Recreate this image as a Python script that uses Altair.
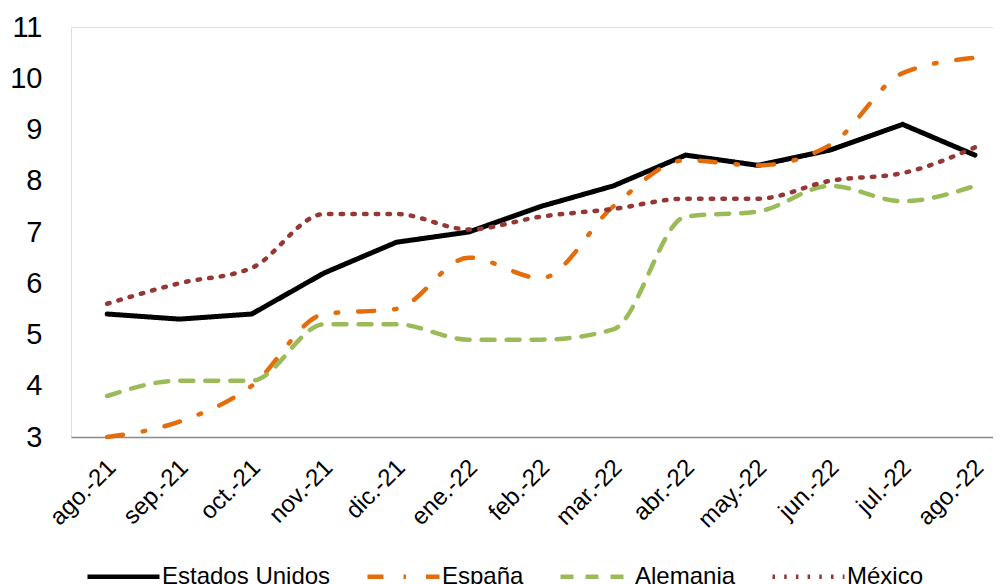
import altair as alt
import pandas as pd

months = ["ago.-21", "sep.-21", "oct.-21", "nov.-21", "dic.-21", "ene.-22", "feb.-22",
          "mar.-22", "abr.-22", "may.-22", "jun.-22", "jul.-22", "ago.-22"]
estados_unidos = [5.4, 5.3, 5.4, 6.2, 6.8, 7.0, 7.5, 7.9, 8.5, 8.3, 8.6, 9.1, 8.5]
espana = [3.0, 3.3, 4.0, 5.4, 5.5, 6.5, 6.1, 7.5, 8.4, 8.3, 8.7, 10.1, 10.4]
alemania = [3.8, 4.1, 4.1, 5.2, 5.2, 4.9, 4.9, 5.1, 7.3, 7.4, 7.9, 7.6, 7.9]
mexico = [5.6, 6.0, 6.3, 7.35, 7.35, 7.05, 7.3, 7.45, 7.65, 7.65, 8.0, 8.15, 8.65]

series_names = ["Estados Unidos", "España", "Alemania", "México"]
series_values = [estados_unidos, espana, alemania, mexico]
series_colors = ["#000000", "#E46C0A", "#9BBB59", "#953735"]
series_dashes = [[1, 0], [16, 20, 2.5, 20], [13, 12], [2.5, 9.2]]
y_ticks = [3, 4, 5, 6, 7, 8, 9, 10, 11]

rows = []
for name, vals in zip(series_names, series_values):
    for i, (m, v) in enumerate(zip(months, vals)):
        rows.append({"idx": i, "mes": m, "serie": name, "valor": v})
df = pd.DataFrame(rows)

label_expr = "[" + ",".join("'" + m + "'" for m in months) + "][datum.value]"

x_enc = alt.X(
    "idx:Q",
    scale=alt.Scale(domain=[-0.5, 12.25], nice=False, zero=False),
    axis=alt.Axis(
        title=None, values=list(range(len(months))), labelExpr=label_expr,
        labelAngle=-45, labelAlign="right", labelBaseline="top",
        labelFont="Liberation Sans", labelFontSize=24, labelColor="#000000",
        labelPadding=18, labelOffset=-4, ticks=False, tickSize=0, grid=False,
        domainColor="#898989", domainWidth=1.5, labelOverlap=False,
    ),
)
y_enc = alt.Y(
    "valor:Q",
    scale=alt.Scale(domain=[3, 11], nice=False, zero=False),
    axis=alt.Axis(
        title=None, values=y_ticks, labelFont="Liberation Sans", labelFontSize=29,
        labelColor="#000000", labelPadding=29, ticks=False, tickSize=0,
        domain=False, grid=False,
    ),
)
legend_opts = dict(
    title=None, orient="none", direction="horizontal", columns=4,
    legendX=14, legendY=511, symbolType="stroke", symbolSize=5184,
    symbolStrokeWidth=4.5, labelFont="Liberation Sans", labelFontSize=24,
    labelColor="#000000", labelOffset=0, columnPadding=27, labelLimit=400,
)
color_enc = alt.Color(
    "serie:N",
    scale=alt.Scale(domain=series_names, range=series_colors),
    legend=alt.Legend(**legend_opts),
)
dash_enc = alt.StrokeDash(
    "serie:N",
    scale=alt.Scale(domain=series_names, range=series_dashes),
    legend=alt.Legend(**legend_opts),
)

base = alt.Chart(df)
black = base.transform_filter(alt.datum.serie == "Estados Unidos").mark_line(
    strokeWidth=5, strokeCap="round", strokeJoin="round", interpolate="linear"
).encode(x=x_enc, y=y_enc, color=color_enc, strokeDash=dash_enc)
others = base.transform_filter(alt.datum.serie != "Estados Unidos").mark_line(
    strokeWidth=4.5, strokeCap="round", strokeJoin="round", interpolate="monotone"
).encode(x=x_enc, y=y_enc, color=color_enc, strokeDash=dash_enc,
         order=alt.Order("idx:Q"))

chart = alt.layer(black, others).properties(
    width=922, height=410,
    autosize=alt.AutoSizeParams(type="none"),
    padding={"left": 63, "top": 19, "right": 0, "bottom": 147},
).configure_view(stroke=None).configure(background="#ffffff")

chart.save("out.html", embed_options={"renderer": "svg", "actions": False})
